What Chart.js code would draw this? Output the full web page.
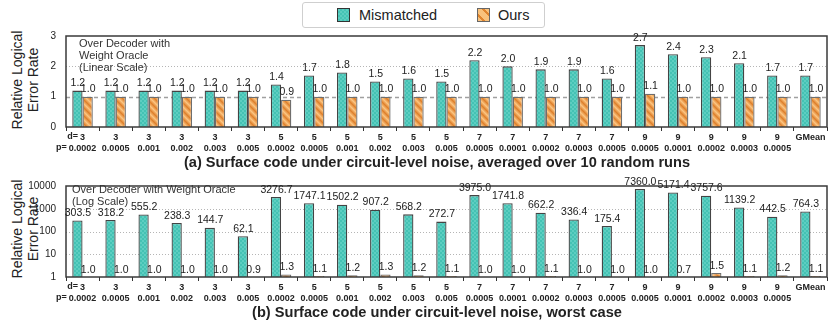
<!DOCTYPE html>
<html>
<head>
<meta charset="utf-8">
<script src="https://cdn.jsdelivr.net/npm/chart.js@4/dist/chart.umd.min.js"></script>
<style>
  body { margin: 0; background: #fff; font-family: "Liberation Sans", Arial, sans-serif; color: #222; }
  #wrap { position: relative; width: 830px; height: 326px; overflow: hidden; }
  .panel { position: absolute; left: 0; width: 830px; height: 136px; }
  .legend {
    position: absolute; left: 302px; top: 2px; width: 241px; height: 24px;
    border: 1.5px solid #cfcfcf; border-radius: 3px; background: #fff;
    font-size: 14.5px; z-index: 2;
  }
  .legend span { position: absolute; top: 4px; line-height: 16px; }
  .sw { position: absolute; top: 5px; width: 11px; height: 12px; border: 1px solid #333; }
  .sw.teal { left: 34px; background: repeating-conic-gradient(#45c3b5 0 25%, #5ccdc0 0 50%) 0 0 / 4px 4px; }
  .sw.orange { left: 174px; border-color: #666; background: repeating-linear-gradient(45deg, #f9c27c 0 3px, #e0852e 3px 5px, #f9c27c 5px 8px); }
  .ytitle {
    position: absolute; left: -40px; width: 130px; font-size: 14px; line-height: 16px;
    text-align: center; transform: rotate(-90deg); transform-origin: center center;
  }
  .note { position: absolute; font-size: 11px; line-height: 12px; color: #333; z-index: 2; }
  .caption { position: absolute; left: 0; width: 874px; text-align: center; font-weight: bold; font-size: 14.6px; line-height: 17px; z-index: 2; }
</style>
</head>
<body>
<div id="wrap">
  <div class="legend">
    <div class="sw teal"></div><span style="left:56px">Mismatched</span>
    <div class="sw orange"></div><span style="left:195px">Ours</span>
  </div>

  <div class="ytitle" style="top:64px">Relative Logical<br>Error Rate</div>
  <div class="ytitle" style="top:213px">Relative Logical<br>Error Rate</div>

  <div class="panel" style="top:20px"><canvas id="chartAvg"></canvas></div>
  <div class="panel" style="top:170px"><canvas id="chartWorst"></canvas></div>

  <div class="note" style="left:79px;top:37px">Over Decoder with<br>Weight Oracle<br>(Linear Scale)</div>
  <div class="note" style="left:72px;top:183px">Over Decoder with Weight Oracle<br>(Log Scale)</div>

  <div class="caption" style="top:154px">(a) Surface code under circuit-level noise, averaged over 10 random runs</div>
  <div class="caption" style="top:304px">(b) Surface code under circuit-level noise, worst case</div>
</div>

<script>
// ----- data -----
const distances = ['3', '3', '3', '3', '3', '3', '5', '5', '5', '5', '5', '5',
  '7', '7', '7', '7', '7', '9', '9', '9', '9', '9', 'GMean']
const probs = ['0.0002', '0.0005', '0.001', '0.002', '0.003', '0.005',
  '0.0002', '0.0005', '0.001', '0.002', '0.003', '0.005',
  '0.0005', '0.0001', '0.0002', '0.0003', '0.0005',
  '0.0005', '0.0001', '0.0002', '0.0003', '0.0005', '']

// (a) averaged over 10 random runs
const avgMismatched = [1.2, 1.2, 1.2, 1.2, 1.2, 1.2, 1.4, 1.7, 1.8, 1.5, 1.6, 1.5,
  2.2, 2.0, 1.9, 1.9, 1.6, 2.7, 2.4, 2.3, 2.1, 1.7, 1.7]
const avgOurs = [1.0, 1.0, 1.0, 1.0, 1.0, 1.0, 0.9, 1.0, 1.0, 1.0, 1.0, 1.0,
  1.0, 1.0, 1.0, 1.0, 1.0, 1.1, 1.0, 1.0, 1.0, 1.0, 1.0]

// (b) worst case
const worstMismatched = [303.5, 318.2, 555.2, 238.3, 144.7, 62.1, 3276.7, 1747.1, 1502.2, 907.2, 568.2, 272.7,
  3975.0, 1741.8, 662.2, 336.4, 175.4, 7360.0, 5171.4, 3757.6, 1139.2, 442.5, 764.3]
const worstOurs = [1.0, 1.0, 1.0, 1.0, 1.0, 0.9, 1.3, 1.1, 1.2, 1.3, 1.2, 1.1,
  1.0, 1.0, 1.1, 1.0, 1.0, 1.0, 0.7, 1.5, 1.1, 1.2, 1.1]

const linearTicks = [0, 1, 2, 3]
const logTicks = [1, 10, 100, 1000, 10000]

const labels = distances.map((d, i) => [d, probs[i]])

// ----- patterns -----
function tealPattern() {
  const c = document.createElement('canvas')
  c.width = 4; c.height = 4
  const g = c.getContext('2d')
  g.fillStyle = '#44c2b4'; g.fillRect(0, 0, 4, 4)
  g.fillStyle = '#5dcec1'; g.fillRect(0, 0, 2, 2); g.fillRect(2, 2, 2, 2)
  return g.createPattern(c, 'repeat')
}

function orangePattern() {
  const s = 8
  const c = document.createElement('canvas')
  c.width = s; c.height = s
  const g = c.getContext('2d')
  const img = g.createImageData(s, s)
  const light = [251, 196, 128], dark = [222, 128, 44]
  for (let y = 0; y < s; y++) {
    for (let x = 0; x < s; x++) {
      const t = (((x - y) % s) + s) % s / s
      const k = Math.abs(t * 2 - 1) // triangle wave
      const i = (y * s + x) * 4
      for (let ch = 0; ch < 3; ch++) img.data[i + ch] = Math.round(dark[ch] + (light[ch] - dark[ch]) * k)
      img.data[i + 3] = 255
    }
  }
  g.putImageData(img, 0, 0)
  return g.createPattern(c, 'repeat')
}

// ----- plugins -----
const frame = {
  id: 'frame',
  beforeDatasetsDraw(chart, args, opts) {
    const { ctx, chartArea: a, scales: { y } } = chart
    ctx.save()
    ctx.strokeStyle = '#b5b5b5'
    ctx.lineWidth = 1
    ctx.setLineDash([1, 2])
    opts.dotted.forEach(v => {
      const py = Math.round(y.getPixelForValue(v)) + 0.5
      ctx.beginPath(); ctx.moveTo(a.left, py); ctx.lineTo(a.right, py); ctx.stroke()
    })
    if (opts.refLine != null) {
      const py = Math.round(y.getPixelForValue(opts.refLine)) + 0.5
      ctx.strokeStyle = '#a0a0a0'
      ctx.lineWidth = 1.5
      ctx.setLineDash([4, 3])
      ctx.beginPath(); ctx.moveTo(a.left, py); ctx.lineTo(a.right, py); ctx.stroke()
    }
    ctx.restore()
  },
  afterDatasetsDraw(chart) {
    const { ctx, chartArea: a } = chart
    ctx.save()
    ctx.strokeStyle = '#3a3a3a'
    ctx.lineWidth = 1.5
    ctx.strokeRect(a.left, a.top, a.right - a.left, a.bottom - a.top)
    ctx.restore()
  },
}

const valueLabels = {
  id: 'valueLabels',
  afterDatasetsDraw(chart) {
    const { ctx, chartArea: a } = chart
    ctx.save()
    ctx.font = '10.5px "Liberation Sans", Arial, sans-serif'
    ctx.fillStyle = '#222'
    ctx.textAlign = 'center'
    ctx.textBaseline = 'bottom'
    chart.data.datasets.forEach((ds, di) => {
      chart.getDatasetMeta(di).data.forEach((bar, i) => {
        const y = Math.min(bar.y, a.bottom)
        ctx.fillText(ds.data[i].toFixed(1), bar.x + 0.5, y - 2)
      })
    })
    ctx.restore()
  },
}

const prefixes = {
  id: 'prefixes',
  afterDraw(chart) {
    const { ctx, chartArea: a, scales: { x } } = chart
    const cx = x.getPixelForTick(0)
    ctx.save()
    ctx.font = 'bold 9px "Liberation Sans", Arial, sans-serif'
    ctx.fillStyle = '#222'
    ctx.textAlign = 'right'
    ctx.textBaseline = 'top'
    const w1 = ctx.measureText(distances[0]).width
    const w2 = ctx.measureText(probs[0]).width
    ctx.fillText('d=', cx - w1 / 2 - 2, a.bottom + 5)
    ctx.fillText('p=', cx - w2 / 2 - 2, a.bottom + 5 + 10.8)
    ctx.restore()
  },
}

// ----- charts -----
function makeChart(id, mismatched, ours, yScale, frameOpts) {
  return new Chart(document.getElementById(id), {
    type: 'bar',
    data: {
      labels,
      datasets: [
        { label: 'Mismatched', data: mismatched, backgroundColor: tealPattern(), borderColor: '#444', borderWidth: 1.3 },
        { label: 'Ours', data: ours, backgroundColor: orangePattern(), borderColor: '#6e6e6e', borderWidth: 1.3 },
      ],
    },
    plugins: [frame, valueLabels, prefixes],
    options: {
      responsive: true,
      maintainAspectRatio: false,
      animation: false,
      layout: { padding: { top: 13, right: 3, left: 0, bottom: 0 } },
      datasets: { bar: { categoryPercentage: 0.62, barPercentage: 1.0, borderSkipped: 'start' } },
      plugins: {
        legend: { display: false },
        tooltip: { enabled: false },
        frame: frameOpts,
      },
      scales: {
        x: {
          grid: { display: true, drawOnChartArea: false, offset: true, tickLength: 4, color: '#333', tickWidth: 1 },
          border: { display: false },
          ticks: {
            autoSkip: false, maxRotation: 0, padding: 1, color: '#222',
            font: { family: '"Liberation Sans", Arial, sans-serif', size: 9, weight: 'bold', lineHeight: 1.2 },
          },
          afterFit(s) { s.height = 29 },
        },
        y: Object.assign({
          grid: { display: false, drawTicks: false },
          border: { display: false },
          afterFit(s) { s.width = 66 },
        }, yScale),
      },
    },
  })
}

const tickFont = { family: '"Liberation Sans", Arial, sans-serif', size: 10 }

makeChart('chartAvg', avgMismatched, avgOurs, {
  type: 'linear', min: 0, max: 3,
  afterBuildTicks(s) { s.ticks = linearTicks.map(v => ({ value: v })) },
  ticks: { padding: 10, color: '#222', font: tickFont },
}, { dotted: [2], refLine: 1 })

makeChart('chartWorst', worstMismatched, worstOurs, {
  type: 'logarithmic', min: 1, max: 10000,
  afterBuildTicks(s) { s.ticks = logTicks.map(v => ({ value: v })) },
  ticks: { padding: 10, color: '#222', font: tickFont, callback: v => String(v) },
}, { dotted: [10, 100, 1000], refLine: null })
</script>
</body>
</html>
